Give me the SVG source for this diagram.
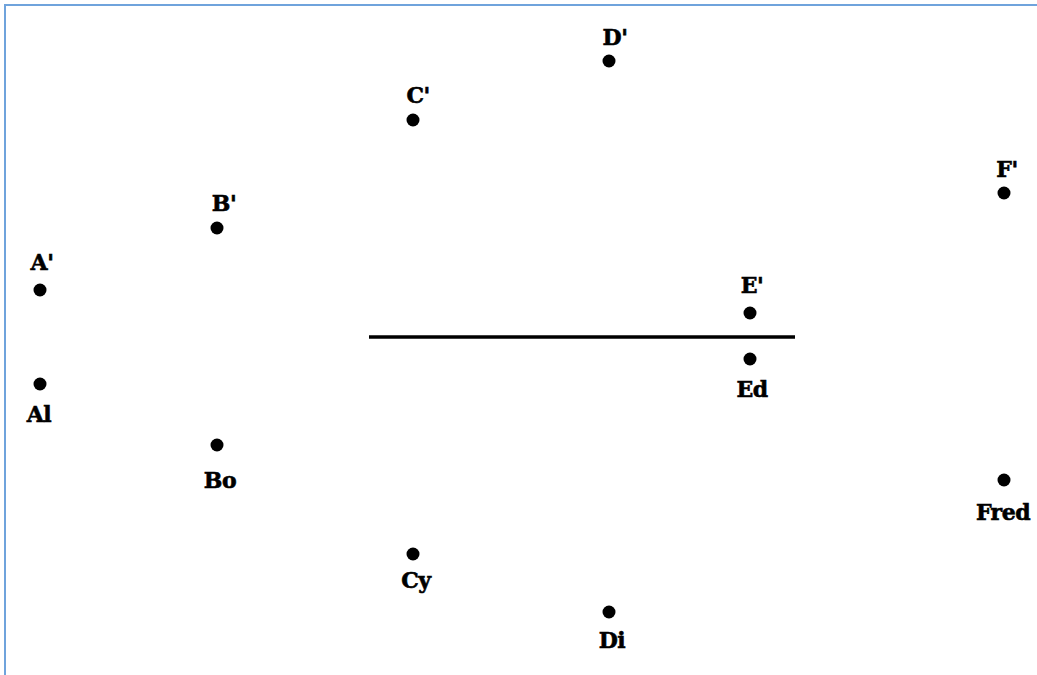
<svg xmlns="http://www.w3.org/2000/svg" width="1037" height="675" viewBox="0 0 1037 675">
<style>
.dot{fill:#000}
.lbl{font-family:"DejaVu Serif","Liberation Serif",serif;font-weight:bold;font-size:22px;fill:#000;stroke:#000;stroke-width:0.6;text-anchor:middle;letter-spacing:-0.5px}
</style>
<rect x="0" y="0" width="1037" height="675" fill="#fff"/>
<rect x="5" y="5" width="1100" height="700" fill="none" stroke="#6fa3dc" stroke-width="2"/>
<g id="connectors">
<line x1="369" y1="337" x2="795" y2="337" stroke="#000" stroke-width="3.5"/>
</g>
<g id="A1"><circle class="dot" cx="40" cy="290" r="6.5"/><text class="lbl" x="42" y="270">A'</text></g>
<g id="Al"><circle class="dot" cx="40" cy="384" r="6.5"/><text class="lbl" x="39" y="422">Al</text></g>
<g id="B1"><circle class="dot" cx="217" cy="228" r="6.5"/><text class="lbl" x="224" y="211">B'</text></g>
<g id="Bo"><circle class="dot" cx="217" cy="445" r="6.5"/><text class="lbl" x="220" y="488">Bo</text></g>
<g id="C1"><circle class="dot" cx="413" cy="120" r="6.5"/><text class="lbl" x="418" y="103">C'</text></g>
<g id="Cy"><circle class="dot" cx="413" cy="554" r="6.5"/><text class="lbl" x="416" y="588">Cy</text></g>
<g id="D1"><circle class="dot" cx="609" cy="61" r="6.5"/><text class="lbl" x="615" y="45">D'</text></g>
<g id="Di"><circle class="dot" cx="609" cy="612" r="6.5"/><text class="lbl" x="612" y="648">Di</text></g>
<g id="E1"><circle class="dot" cx="750" cy="313" r="6.5"/><text class="lbl" x="752" y="293">E'</text></g>
<g id="Ed"><circle class="dot" cx="750" cy="359" r="6.5"/><text class="lbl" x="752" y="397">Ed</text></g>
<g id="F1"><circle class="dot" cx="1004" cy="193" r="6.5"/><text class="lbl" x="1007" y="177">F'</text></g>
<g id="Fred"><circle class="dot" cx="1004" cy="480" r="6.5"/><text class="lbl" x="1003" y="520">Fred</text></g>
</svg>
